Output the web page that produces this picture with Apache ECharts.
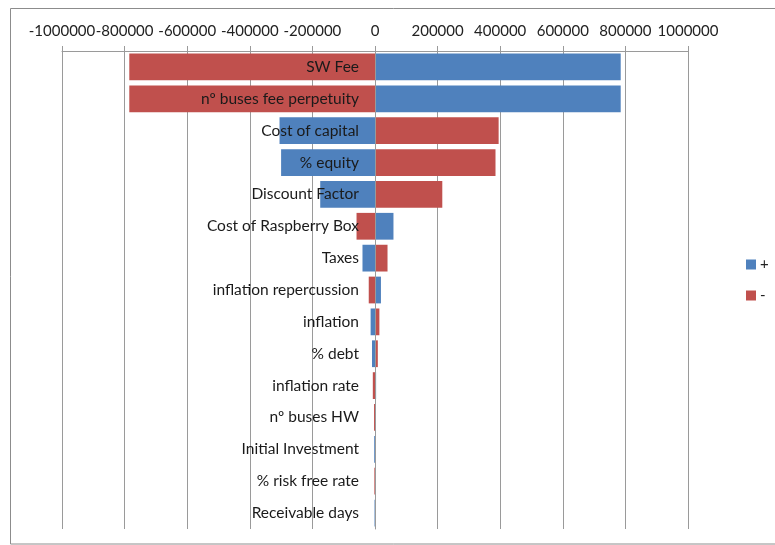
<!DOCTYPE html>
<html>
<head>
<meta charset="utf-8">
<title>Tornado</title>
<script src="https://cdn.jsdelivr.net/npm/echarts@6/dist/echarts.min.js"></script>
<style>
  html, body { margin: 0; padding: 0; background: #fff; }
  #chart { width: 775px; height: 545px; }
</style>
</head>
<body>
<div id="chart"></div>
<script>
// Drivers, ordered by swing (largest on top)
const categories = [
  'SW Fee', 'nº buses fee perpetuity', 'Cost of capital', '% equity',
  'Discount Factor', 'Cost of Raspberry Box', 'Taxes', 'inflation repercussion',
  'inflation', '% debt', 'inflation rate', 'nº buses HW', 'Initial Investment',
  '% risk free rate', 'Receivable days'
];

// Change in result with the driver moved up (+) and down (-)
const plusValues = [
  785000, 785000, -305000, -300000, -175000, 59000, -40000, 19000,
  -14000, -9500, 3500, 0, -2500, 0, -1500
];
const minusValues = [
  -785000, -785000, 395000, 385000, 215000, -59000, 40000, -20000,
  14000, 9000, -7000, -3000, 0, -2000, 0
];

const xTicks = { min: -1000000, max: 1000000, step: 200000 };

const FONT = 'Lato, "Liberation Sans", sans-serif';
const GRID_GREY = '#9a9a9a';
const GRID_LEFT = 62, GRID_WIDTH = 626;

// pixel distance from the grid's left edge to the zero line
const zeroShift = GRID_WIDTH * (0 - xTicks.min) / (xTicks.max - xTicks.min);

const chart = echarts.init(document.getElementById('chart'), null, { renderer: 'canvas' });

chart.setOption({
  animation: false,
  backgroundColor: '#fff',
  textStyle: { fontFamily: FONT },
  graphic: [{
    type: 'rect',
    shape: { x: 10.5, y: 8.5, width: 780, height: 535.5 },
    style: { fill: 'none', stroke: '#8c8c8c', lineWidth: 1 },
    silent: true
  }],
  legend: {
    orient: 'vertical',
    left: 746,
    top: 257,
    padding: 0,
    itemWidth: 10,
    itemHeight: 10,
    itemGap: 16,
    icon: 'rect',
    textStyle: { fontFamily: FONT, fontSize: 15, color: '#222', padding: [0, 0, 0, -1] },
    data: ['+', '-']
  },
  grid: {
    left: GRID_LEFT, top: 51, width: GRID_WIDTH, height: 478,
    containLabel: false, outerBoundsMode: 'none'
  },
  xAxis: {
    type: 'value',
    position: 'top',
    min: xTicks.min,
    max: xTicks.max,
    interval: xTicks.step,
    axisLine: { show: true, lineStyle: { color: GRID_GREY, width: 1 } },
    axisTick: { show: true, length: 5, lineStyle: { color: GRID_GREY } },
    splitLine: { show: true, lineStyle: { color: GRID_GREY, width: 1 } },
    axisLabel: {
      fontFamily: FONT, fontSize: 15, color: '#222', margin: 12,
      showMinLabel: true, showMaxLabel: true, hideOverlap: false,
      formatter: v => String(v)
    }
  },
  yAxis: {
    type: 'category',
    inverse: true,
    data: categories,
    position: 'left',
    offset: -zeroShift,
    z: 10,
    axisLine: { show: true, onZero: false, lineStyle: { color: GRID_GREY } },
    axisTick: { show: false },
    splitLine: { show: false },
    axisLabel: { fontFamily: FONT, fontSize: 15.5, color: '#1a1a1a', margin: 16 }
  },
  series: [
    {
      name: '+',
      type: 'bar',
      data: plusValues,
      barGap: '-100%',
      barCategoryGap: '16%',
      itemStyle: { color: '#4F81BD' },
      z: 2
    },
    {
      name: '-',
      type: 'bar',
      data: minusValues,
      barGap: '-100%',
      barCategoryGap: '16%',
      itemStyle: { color: '#C0504D' },
      z: 2
    }
  ]
});
</script>
</body>
</html>
